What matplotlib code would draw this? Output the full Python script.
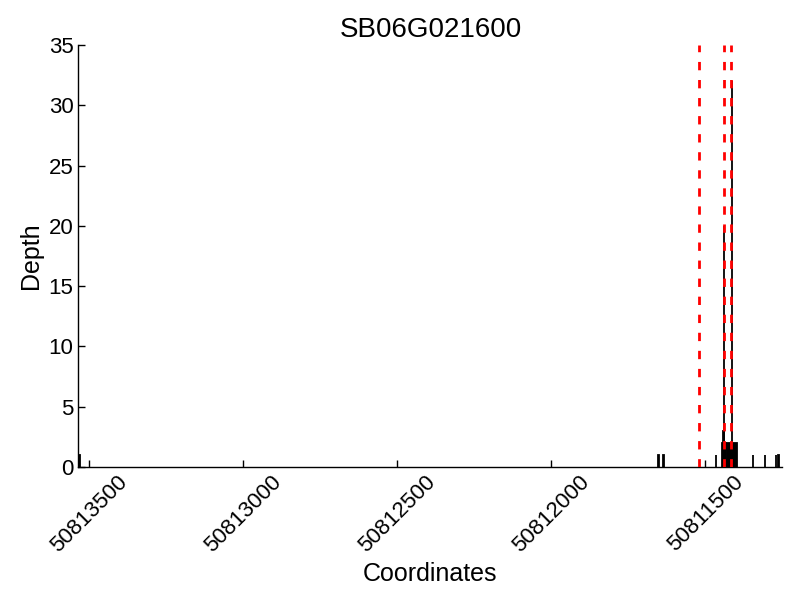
import matplotlib
matplotlib.use("Agg")
from matplotlib import pyplot as plt

# coverage in bedgraph form: start, end, depth
seg_start = [50813530, 50811652, 50811635, 50811465, 50811434, 50811439, 50811441,
             50811443, 50811398, 50811412, 50811415, 50811346, 50811306, 50811271, 50811262]
seg_end = [50813532, 50811654, 50811637, 50811467, 50811439, 50811440, 50811443,
           50811445, 50811412, 50811415, 50811429, 50811347, 50811307, 50811272, 50811263]
seg_depth = [1, 1, 1, 1, 2, 20, 3, 2, 2, 32, 2, 1, 1, 1, 1]

# exon / feature boundaries
marks = [50811520, 50811439, 50811417]

x_ticks = [50813500, 50813000, 50812500, 50812000, 50811500]
y_ticks = [0, 5, 10, 15, 20, 25, 30, 35]

plt.rcParams['font.family'] = ['Liberation Sans', 'DejaVu Sans']
plt.rcParams['xtick.direction'] = 'in'
plt.rcParams['ytick.direction'] = 'in'

fig = plt.figure(figsize=(8, 6), dpi=100)
ax = fig.add_axes([0.098, 0.222, 0.880, 0.703])

widths = [e - s for s, e in zip(seg_start, seg_end)]
ax.bar(seg_start, seg_depth, width=widths, align='edge', color='k',
       edgecolor='k', linewidth=1.3)

for m in marks:
    ax.axvline(m, color='red', linestyle='--', linewidth=2, dashes=(3, 3.5), zorder=3)

ax.set_xlim(50813535, 50811250)
ax.set_ylim(0, 35)
ax.set_xticks(x_ticks)
ax.set_xticklabels([str(t) for t in x_ticks], rotation=45, ha='center')
ax.set_yticks(y_ticks)
ax.tick_params(labelsize=16, length=5, width=1, top=False, right=False)

for side in ['top', 'right']:
    ax.spines[side].set_visible(False)
for side in ['left', 'bottom']:
    ax.spines[side].set_linewidth(1.0)

ax.set_xlabel('Coordinates', fontsize=18)
ax.set_ylabel('Depth', fontsize=18)
ax.set_title('SB06G021600', fontsize=20)

fig.savefig('out.png', dpi=100)
